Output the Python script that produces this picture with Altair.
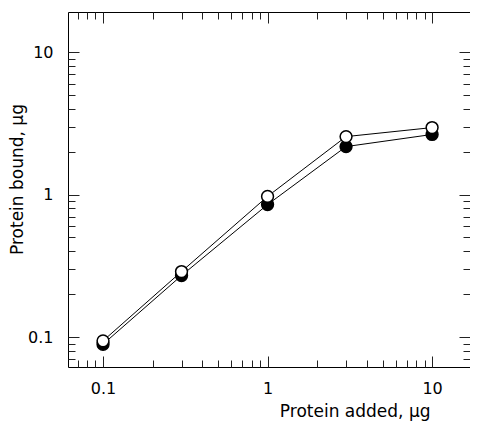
import altair as alt
import pandas as pd

# ---- data ----
protein_added = [0.1, 0.3, 1, 3, 10]
bound_filled = [0.089, 0.27, 0.85, 2.17, 2.64]
bound_open = [0.094, 0.288, 0.97, 2.55, 2.95]

major_ticks = [0.1, 1, 10]
minor_ticks = [0.07, 0.08, 0.09, 0.2, 0.3, 0.4, 0.5, 0.6, 0.7, 0.8, 0.9,
               2, 3, 4, 5, 6, 7, 8, 9]
x_domain = [0.06125, 17.0]
y_domain = [0.0616, 19.1]

df_f = pd.DataFrame({"added": protein_added, "bound": bound_filled})
df_o = pd.DataFrame({"added": protein_added, "bound": bound_open})

FONT = "DejaVu Sans"
TC = "#222222"
W, H = 402, 355


def ax(orient, values, size, **extra):
    kw = dict(orient=orient, values=values, tickSize=size, offset=-size,
              domain=False, grid=False, labels=False, tickColor=TC,
              tickWidth=1, title=None)
    kw.update(extra)
    return alt.Axis(**kw)


def enc(base, xaxis, yaxis):
    return base.encode(
        x=alt.X("added:Q", scale=alt.Scale(type="log", domain=x_domain, nice=False),
                axis=xaxis),
        y=alt.Y("bound:Q", scale=alt.Scale(type="log", domain=y_domain, nice=False),
                axis=yaxis),
    )


x_bottom_major = ax("bottom", major_ticks, 11, labels=True, format="~g",
                    labelFont=FONT, labelFontSize=16, labelColor="black",
                    labelPadding=13, labelOverlap=False, labelFlush=False,
                    title="Protein added, µg", titleFont=FONT, titleFontSize=17,
                    titleFontWeight="normal", titleColor="black",
                    titleAlign="right", titleBaseline="alphabetic",
                    titleX=362, titleY=60)
y_left_major = ax("left", major_ticks, 11, labels=True, format="~g",
                  labelFont=FONT, labelFontSize=16, labelColor="black",
                  labelPadding=15, labelOverlap=False, labelFlush=False,
                  title="Protein bound, µg", titleFont=FONT, titleFontSize=17,
                  titleFontWeight="normal", titleColor="black",
                  titleAngle=270, titleAlign="center", titleBaseline="alphabetic",
                  titleX=-57, titleY=167)

line_f = enc(alt.Chart(df_f).mark_line(color="black", strokeWidth=1),
             x_bottom_major, y_left_major)
line_o = enc(alt.Chart(df_o).mark_line(color="black", strokeWidth=1),
             ax("bottom", minor_ticks, 7), ax("left", minor_ticks, 7))
pts_f = enc(alt.Chart(df_f).mark_point(shape="circle", filled=True, fill="black",
                                       stroke="black", strokeWidth=1.5, size=140,
                                       opacity=1),
            ax("top", major_ticks, 11), ax("right", major_ticks, 11))
pts_o = enc(alt.Chart(df_o).mark_point(shape="circle", filled=True, fill="white",
                                       stroke="black", strokeWidth=1.5, size=140,
                                       opacity=1),
            ax("top", minor_ticks, 7), ax("right", minor_ticks, 7))

chart = (
    alt.layer(line_f, line_o, pts_f, pts_o)
    .resolve_axis(x="independent", y="independent")
    .properties(width=W, height=H,
                autosize=alt.AutoSizeParams(type="none"),
                padding={"left": 60, "top": 4, "right": 0, "bottom": 54},
                background="white")
    .configure_view(stroke="black", strokeWidth=1)
)

chart.save("out.html", embed_options={"renderer": "svg", "actions": False})
